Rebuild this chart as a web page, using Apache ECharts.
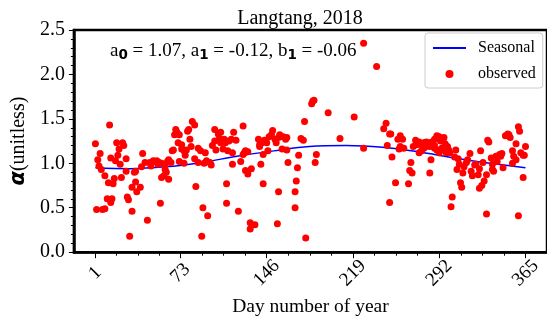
<!DOCTYPE html>
<html>
<head>
<meta charset="utf-8">
<script src="https://cdn.jsdelivr.net/npm/echarts@6/dist/echarts.min.js"></script>
<style>
  html, body { margin: 0; padding: 0; background: #fff; }
  #chart { width: 547px; height: 322px; }
</style>
</head>
<body>
<div id="chart"></div>
<script>
// Observed alpha per day of year (Langtang, 2018)
const obsDay = [
  1, 2, 3, 4, 5, 6, 7, 9, 9, 11,
  12, 13, 14, 14, 15, 16, 17, 18, 19, 20,
  21, 22, 23, 24, 25, 27, 27, 28, 29, 30,
  32, 32, 34, 35, 35, 36, 39, 40, 41, 43,
  45, 47, 48, 50,
  51, 53, 54, 55, 56, 57, 57, 59, 60, 60,
  61, 62, 63, 63, 65, 66, 67, 68, 69, 70,
  71, 72, 72, 74, 74, 76, 76, 77, 78, 79,
  80, 81, 82, 83, 85, 85, 86, 88, 88, 90,
  91, 92, 93, 94, 95, 96, 98, 99, 100,
  102, 102, 103, 105, 106, 107, 107, 109, 110, 111,
  112, 112, 113, 114, 116, 117, 117, 118, 120, 122,
  124, 126, 126, 127, 128, 128, 130, 130, 132, 132,
  133, 136, 139, 140, 140, 141, 142, 143, 143, 144,
  146, 147, 148, 150,
  151, 153, 154, 155, 156, 156, 157, 159, 160, 162,
  163, 163, 164, 170, 170, 171, 172, 173, 175, 177,
  178, 179, 184, 185, 186, 187, 188, 198, 208, 220,
  228, 228, 239, 245, 247, 248, 250, 250, 251,
  252, 255, 257, 258, 259, 259, 261, 262, 266, 267,
  268, 269, 270, 272, 273, 275, 275, 277, 277, 279,
  279, 281, 281, 283, 284, 284, 285, 286, 288, 288,
  288, 290, 290, 292, 292, 293, 294, 295, 296, 297,
  297, 298, 299, 300,
  301, 302, 303, 305, 306, 307, 308, 309, 310, 311,
  312, 313, 315, 316, 318, 319, 320, 322, 323, 325,
  326, 326, 327, 328, 329, 330, 332, 332, 333, 334,
  336, 337, 337, 338, 340, 341, 343, 344, 345, 346,
  348, 350, 351, 352, 354, 354, 355, 357, 357, 359,
  359, 360, 361, 363, 363, 364, 365
];
const obsAlpha = [
  1.22, 0.48, 1.04, 0.97, 1.11, 0.93, 0.48, 0.49, 0.86, 0.60,
  0.78, 1.43, 0.56, 1.06, 0.60, 0.77, 0.83, 1.03, 1.23, 1.09,
  1.16, 0.99, 0.84, 1.23, 1.20, 1.05, 0.91, 0.62, 0.59, 0.18,
  0.46, 0.73, 0.90, 0.91, 0.79, 0.68, 0.73, 0.96, 1.11, 1.01,
  0.36, 1.01, 0.97, 1.03,
  1.02, 1.03, 0.99, 1.01, 0.55, 1.00, 0.84, 0.86, 0.99, 0.93,
  0.90, 1.02, 0.82, 1.04, 1.01, 1.14, 1.15, 1.32, 1.38, 1.35,
  1.23, 1.32, 1.02, 1.21, 1.16, 1.14, 1.00, 1.09, 1.15, 1.36,
  1.38, 1.27, 1.19, 1.47, 1.43, 1.05, 0.74, 1.01, 1.17, 1.14,
  0.18, 0.50, 1.00, 1.12, 1.03, 0.41, 1.01, 0.98, 1.20,
  1.38, 1.25, 1.15, 1.33, 1.28, 1.35, 1.23, 1.16, 1.27, 1.23,
  0.55, 0.77, 1.14, 1.25, 1.27, 1.12, 0.99, 1.35, 1.26, 0.46,
  1.02, 1.10, 1.42, 1.12, 1.14, 0.92, 0.88, 1.13, 0.26, 0.33,
  0.94, 0.31, 1.27, 1.19, 1.21, 0.99, 1.23, 1.10, 0.77, 1.26,
  1.23, 1.14, 1.30, 1.32,
  1.37, 1.27, 1.23, 0.32, 1.29, 0.68, 1.32, 1.16, 1.30, 1.27,
  1.29, 1.15, 1.01, 0.50, 0.68, 0.80, 0.95, 1.09, 1.28, 1.26,
  1.47, 0.16, 1.67, 1.70, 1.71, 1.01, 1.10, 1.57, 1.28, 1.52,
  2.35, 1.17, 2.09, 1.39, 1.45, 1.20, 1.33, 0.56, 1.33,
  1.07, 0.78, 1.27, 1.16, 1.31, 1.19, 1.27, 1.17, 0.77, 0.92,
  1.01, 0.89, 1.19, 1.26, 1.21, 1.24, 1.12, 1.21, 1.14, 1.17,
  1.23, 1.19, 1.24, 1.23, 1.19, 0.89, 1.04, 1.24, 1.27, 1.20,
  1.17, 1.15, 1.31, 1.30, 1.12, 1.25, 1.17, 1.27, 1.29, 1.22,
  1.14, 1.12, 1.19, 1.15,
  1.12, 0.51, 0.62, 1.07, 1.15, 0.93, 1.05, 0.99, 0.78, 0.73,
  0.89, 0.96, 1.01, 1.04, 1.11, 0.91, 0.86, 0.98, 0.99, 0.87,
  0.94, 0.72, 1.14, 0.75, 1.01, 0.80, 0.87, 0.43, 1.26, 1.24,
  1.06, 0.93, 0.99, 0.91, 1.08, 1.02, 1.10, 1.08, 1.11, 0.95,
  1.31, 1.33, 1.32, 1.29, 1.14, 1.00, 1.08, 1.04, 1.22, 0.41,
  1.41, 1.36, 1.12, 1.09, 0.84, 1.09, 1.19
];

// Seasonal curve sampled through the year
const seasonalDay = [1, 30, 60, 91, 121, 152, 182, 213, 244, 274, 305, 335, 365];
const seasonalAlpha = [0.95, 0.94, 0.96, 1.01, 1.08, 1.14, 1.19, 1.20, 1.18, 1.13, 1.06, 1.00, 0.95];

// Labelled day ticks
const xTickDays = [1, 73, 146, 219, 292, 365];

// Fitted coefficients shown in the annotation: [symbol, subscript, value]
const coefficients = [['a', '0', '1.07'], ['a', '1', '-0.12'], ['b', '1', '-0.06']];

const SERIF = '"Liberation Serif", "Times New Roman", serif';
const SANS = '"DejaVu Sans", sans-serif';
const MAIN_SIZE = 19;
const SUB_SIZE = 13.5;

// three minor ticks between each pair of labelled days
const xMinorDays = [];
for (let i = 0; i < xTickDays.length - 1; i++) {
  const a = xTickDays[i], b = xTickDays[i + 1];
  for (let k = 1; k < 4; k++) xMinorDays.push(a + (b - a) * k / 4);
}

// Annotation laid out piece by piece so the subscripts sit below the baseline
const measureCtx = document.createElement('canvas').getContext('2d');
function textWidth(str, font) {
  measureCtx.font = font;
  return measureCtx.measureText(str).width;
}
const mainFont = MAIN_SIZE + 'px ' + SERIF;
const subFont = 'bold ' + SUB_SIZE + 'px ' + SANS;
const pieces = [];
coefficients.forEach((c, i) => {
  pieces.push({ text: c[0], sub: false });
  pieces.push({ text: c[1], sub: true });
  pieces.push({ text: ' = ' + c[2] + (i < coefficients.length - 1 ? ', ' : ''), sub: false });
});
let cursor = 0;
const annotationChildren = pieces.map(p => {
  const el = {
    type: 'text',
    x: cursor,
    y: p.sub ? 4.5 : 0,
    style: {
      text: p.text,
      fontFamily: p.sub ? SANS : SERIF,
      fontSize: p.sub ? SUB_SIZE : MAIN_SIZE,
      fontWeight: p.sub ? 'bold' : 'normal',
      fill: '#000',
      align: 'left',
      verticalAlign: 'middle'
    }
  };
  cursor += textWidth(p.text, p.sub ? subFont : mainFont);
  return el;
});

const chart = echarts.init(document.getElementById('chart'), null, { renderer: 'canvas' });

chart.setOption({
  animation: false,
  backgroundColor: '#ffffff',
  title: {
    text: 'Langtang, 2018',
    left: 295,
    top: 4,
    textAlign: 'center',
    textStyle: { fontFamily: SERIF, fontSize: 20, fontWeight: 'normal', color: '#000' }
  },
  grid: {
    left: 67, top: 30, width: 483, height: 223,
    show: true, borderColor: '#000', borderWidth: 2.5, backgroundColor: 'transparent'
  },
  legend: {
    orient: 'vertical',
    left: 425, top: 33,
    padding: [7, 7, 6, 7],
    itemWidth: 33, itemHeight: 8, itemGap: 10,
    borderColor: '#cccccc', borderWidth: 1, borderRadius: 3,
    backgroundColor: 'rgba(255,255,255,0.8)',
    textStyle: { fontFamily: SERIF, fontSize: 16, color: '#000', padding: [0, 0, 0, 7] },
    data: [
      { name: 'Seasonal', itemStyle: { opacity: 0, borderWidth: 0 } },
      { name: 'observed', icon: 'circle' }
    ]
  },
  xAxis: [{
    type: 'value', min: -17.2, max: 383.2,
    axisLine: { show: true, onZero: false, lineStyle: { color: '#000', width: 2.5 } },
    axisTick: { show: true, customValues: xTickDays, length: 6, lineStyle: { color: '#000', width: 1 } },
    axisLabel: {
      customValues: xTickDays, rotate: 45, align: 'center', verticalAlign: 'middle',
      margin: 21, fontFamily: SERIF, fontSize: 19, color: '#000'
    },
    splitLine: { show: false },
    name: 'Day number of year', nameLocation: 'middle', nameGap: 42,
    nameTextStyle: { fontFamily: SERIF, fontSize: 19.5, color: '#000' }
  }, {
    type: 'value', min: -17.2, max: 383.2, position: 'bottom',
    axisLine: { show: false, onZero: false },
    axisTick: { show: true, customValues: xMinorDays, length: 3.5, lineStyle: { color: '#000', width: 1 } },
    axisLabel: { show: false },
    splitLine: { show: false }
  }],
  yAxis: {
    type: 'value', min: 0, max: 2.5, interval: 0.5,
    axisLine: { show: true, onZero: false, lineStyle: { color: '#000', width: 2.5 } },
    axisTick: { show: true, length: 5, lineStyle: { color: '#000', width: 1 } },
    minorTick: { show: true, splitNumber: 5, length: 3, lineStyle: { color: '#000', width: 1 } },
    axisLabel: {
      margin: 9, fontFamily: SERIF, fontSize: 20, color: '#000',
      formatter: v => v.toFixed(1)
    },
    splitLine: { show: false },
    minorSplitLine: { show: false },
    name: '{al|α}{u|(unitless)}',
    nameLocation: 'middle', nameRotate: 90, nameGap: 36,
    nameTextStyle: {
      rich: {
        al: { fontFamily: SANS, fontWeight: 'bold', fontStyle: 'italic', fontSize: 21, color: '#000' },
        u: { fontFamily: SERIF, fontSize: 20, color: '#000' }
      }
    }
  },
  graphic: [{
    type: 'group',
    x: 110, y: 51,
    z: 10,
    children: annotationChildren
  }],
  series: [{
    type: 'line',
    name: 'Seasonal',
    data: seasonalDay.map((d, i) => [d, seasonalAlpha[i]]),
    smooth: 0.4,
    symbol: 'none',
    showSymbol: false,
    lineStyle: { color: '#0000ff', width: 1.5 },
    itemStyle: { color: '#0000ff' },
    z: 2
  }, {
    type: 'scatter',
    name: 'observed',
    data: obsDay.map((d, i) => [d, obsAlpha[i]]),
    symbol: 'circle',
    symbolSize: 7,
    itemStyle: { color: '#ff0000', opacity: 1 },
    z: 3
  }]
});
</script>
</body>
</html>
